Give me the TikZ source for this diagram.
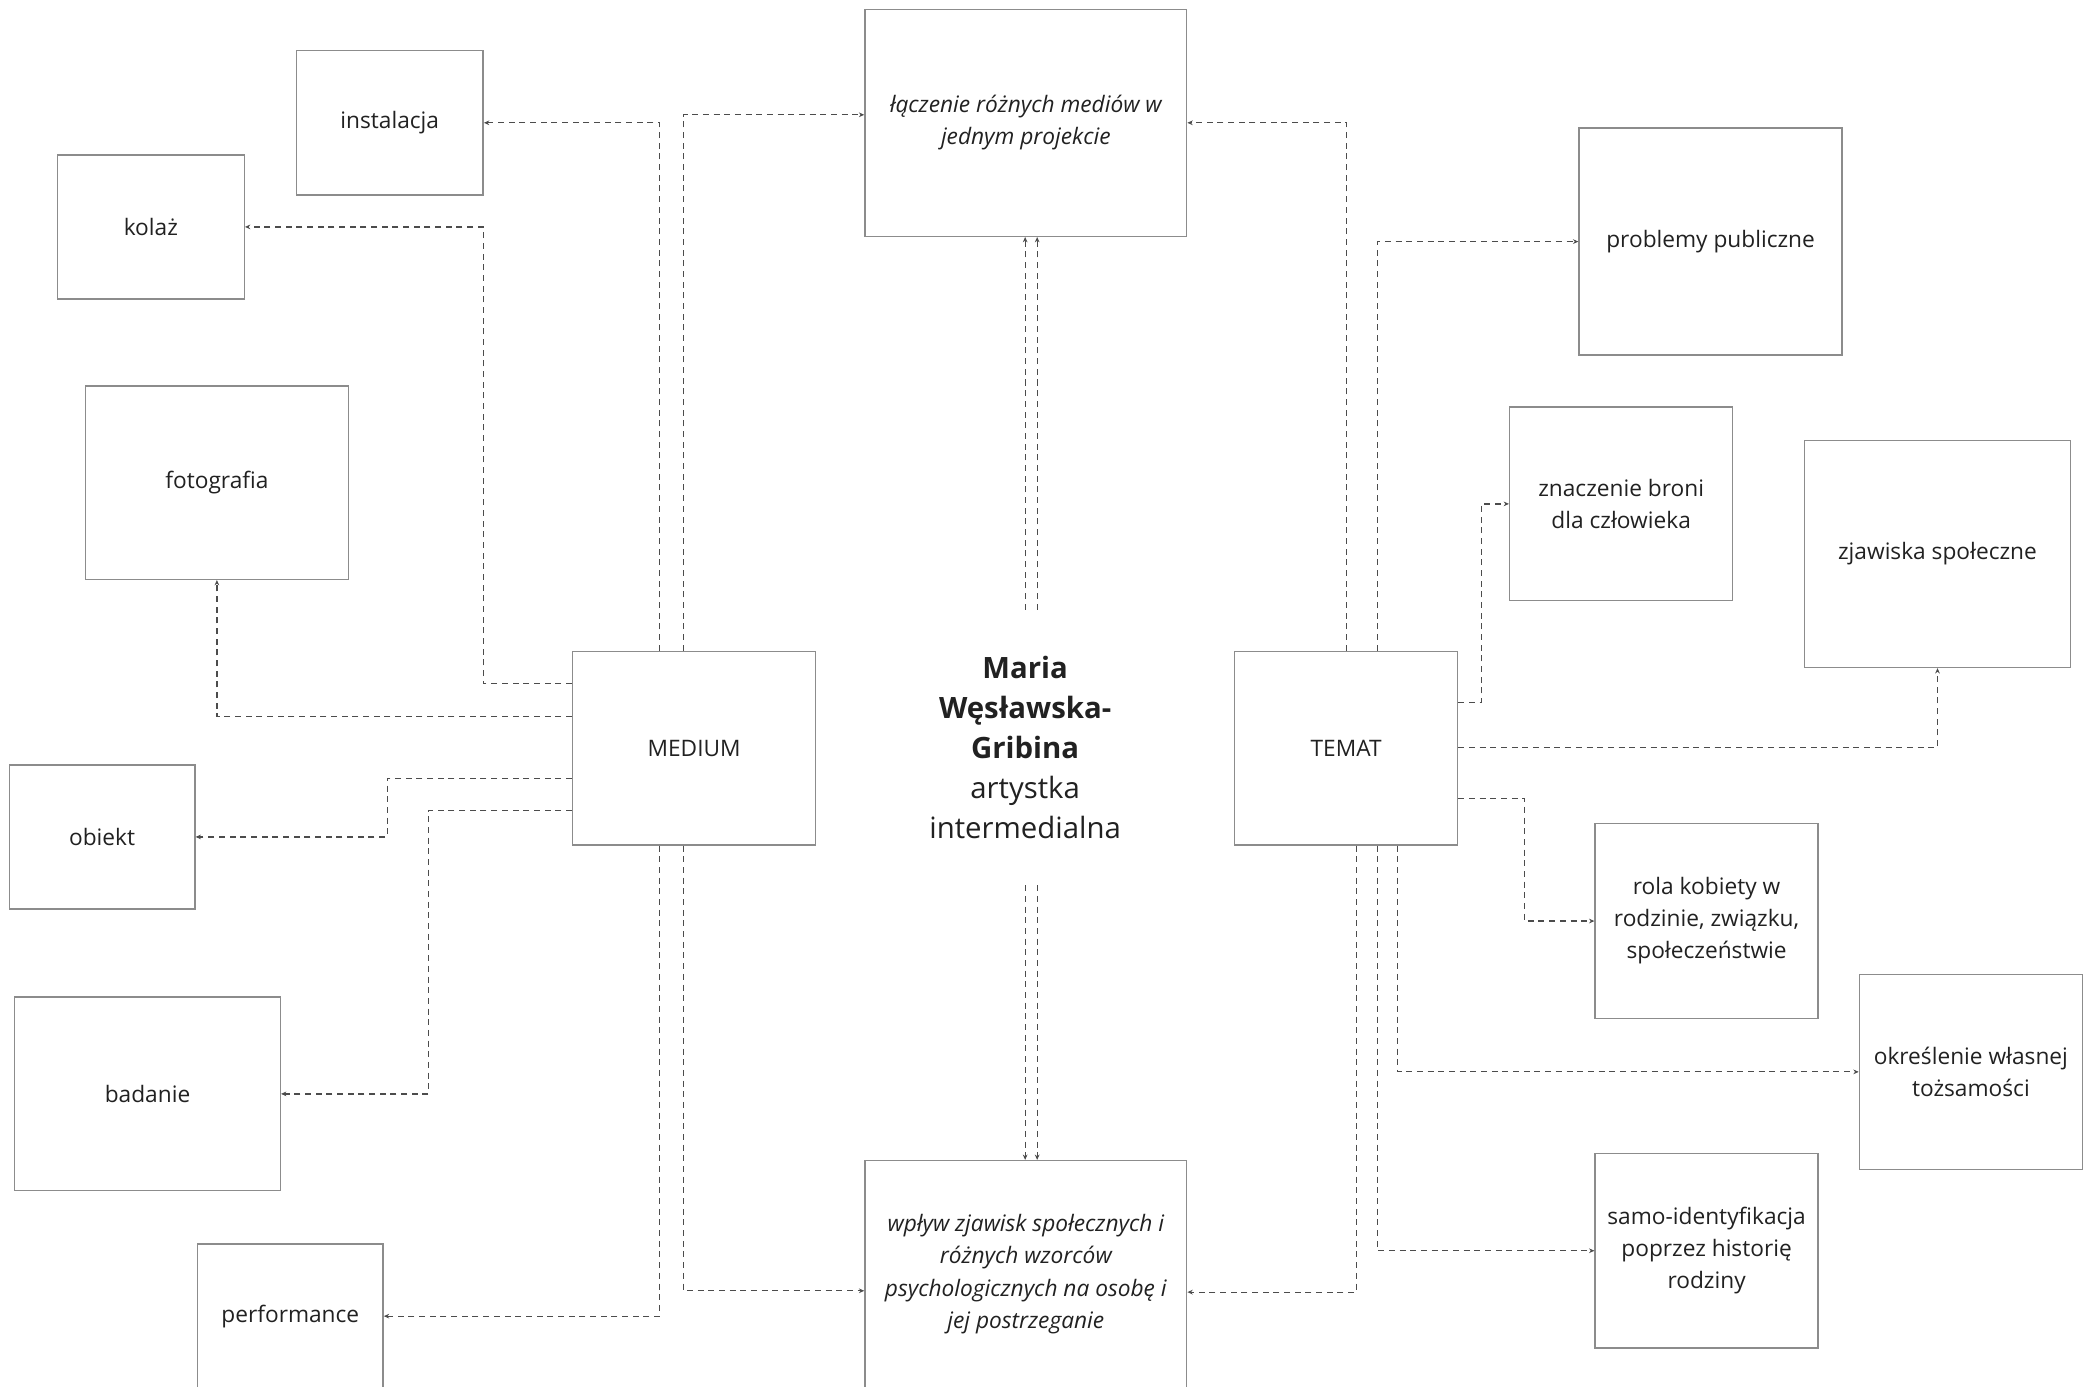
\documentclass[tikz,border=0pt]{standalone}
\usepackage{fontspec}
\setmainfont{Open Sans}
\usepackage{tikz}
\usetikzlibrary{arrows.meta}
\usetikzlibrary{positioning}

\begin{document}
\begin{tikzpicture}[x=1pt, y=-1pt,
	box/.style={draw=black!45, line width=1.1pt, inner sep=0pt, align=center,
		text=black!87, font=\fontsize{17}{24}\selectfont},
	ital/.style={box, font=\fontsize{17}{24}\selectfont\itshape},
	link/.style={draw=black!70, line width=0.9pt, dash pattern=on 4.5pt off 3.5pt,
		-{Stealth[length=4pt,width=3.5pt]}}]
	\useasboundingbox (0,0) rectangle (1568,1039);
	\clip (0,0) rectangle (1568,1039);
	\node[box, minimum width=140, minimum height=108] (0) at (292, 92) {instalacja};
	\node[box, minimum width=140, minimum height=108] (1) at (113, 170) {kolaż};
	\node[box, minimum width=197, minimum height=145] (2) at (162.5, 361.5) {fotografia};
	\node[box, minimum width=139, minimum height=108] (3) at (76.5, 627) {obiekt};
	\node[box, minimum width=199, minimum height=145] (4) at (110.5, 819.5) {badanie};
	\node[box, minimum width=139, minimum height=108] (5) at (217.5, 986) {performance};
	\node[box, minimum width=182, minimum height=145] (6) at (520, 560.5) {MEDIUM};
	\node[ital, minimum width=241, minimum height=170] (7) at (768.5, 92) {łączenie różnych mediów w\\jednym projekcie};
	\node[ital, minimum width=241, minimum height=170] (8) at (768.5, 954.5) {wpływ zjawisk społecznych i\\różnych wzorców\\psychologicznych na osobę i\\jej postrzeganie};
	\node[inner sep=0pt, minimum height=206, align=center, text=black!87,
		font=\fontsize{22}{30}\selectfont] (9) at (768, 560)
		{\textbf{Maria}\\\textbf{Węsławska-}\\\textbf{Gribina}\\artystka\\intermedialna};
	\node[box, minimum width=167, minimum height=145] (10) at (1008.5, 560.5) {TEMAT};
	\node[box, minimum width=197, minimum height=170] (11) at (1281.5, 181) {problemy publiczne};
	\node[box, minimum width=167, minimum height=145] (12) at (1214.5, 377.5) {znaczenie broni\\dla człowieka};
	\node[box, minimum width=199, minimum height=170] (13) at (1451.5, 415) {zjawiska społeczne};
	\node[box, minimum width=167, minimum height=146] (14) at (1278.5, 690) {rola kobiety w\\rodzinie, związku,\\społeczeństwie};
	\node[box, minimum width=167, minimum height=146] (15) at (1476.5, 803) {określenie własnej\\tożsamości};
	\node[box, minimum width=167, minimum height=146] (16) at (1278.5, 937) {samo-identyfikacja\\poprzez historię\\rodziny};
	\draw[link] (768,0 |- 9.north) -- (768,0 |- 7.south);
	\draw[link] (777,0 |- 9.north) -- (777,0 |- 7.south);
	\draw[link] (768,0 |- 9.south) -- (768,0 |- 8.north);
	\draw[link] (777,0 |- 9.south) -- (777,0 |- 8.north);
	\draw[link] (494,0 |- 6.north) |- (0.east);
	\draw[link] (512,0 |- 6.north) |- (7.west |- 0,86);
	\draw[link] (6.west |- 0,512) -| (362,0 |- 1.east) -- (1.east);
	\draw[link] (6.west |- 0,537) -| (2.south);
	\draw[link] (6.west |- 0,583) -| (290,0 |- 3.east) -- (3.east);
	\draw[link] (6.west |- 0,607) -| (321,0 |- 4.east) -- (4.east);
	\draw[link] (494,0 |- 6.south) |- (5.east);
	\draw[link] (512,0 |- 6.south) |- (8.west |- 0,967);
	\draw[link] (1009,0 |- 10.north) |- (7.east);
	\draw[link] (1032,0 |- 10.north) |- (11.west);
	\draw[link] (10.east |- 0,526) -| (1110,0 |- 12.west) -- (12.west);
	\draw[link] (10.east |- 0,560) -| (13.south);
	\draw[link] (10.east |- 0,598) -| (1142,0 |- 14.west) -- (14.west);
	\draw[link] (1016,0 |- 10.south) |- (8.east |- 0,968);
	\draw[link] (1032,0 |- 10.south) |- (16.west);
	\draw[link] (1047,0 |- 10.south) |- (15.west);
\end{tikzpicture}
\end{document}
